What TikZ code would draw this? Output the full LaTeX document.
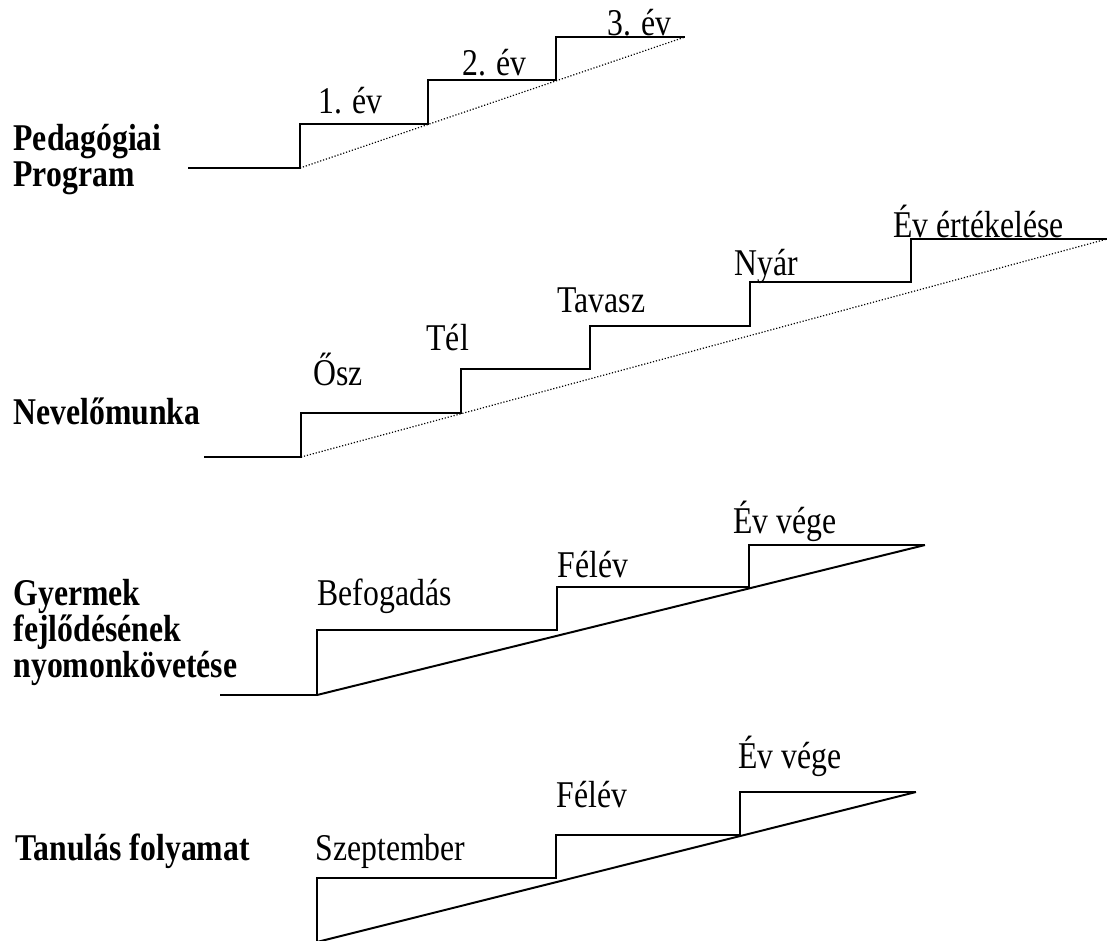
\documentclass[tikz,border=0pt]{standalone}
\usepackage{fontspec}
\setmainfont{Liberation Serif}[FakeStretch=0.84]
\usepackage{tikz}
\usetikzlibrary{positioning}
\tikzstyle{stair} = [line width=0.75pt, line join=miter]
\tikzstyle{slope} = [line width=0.45pt, dash pattern=on 0.45pt off 0.7pt]
\tikzstyle{ramp} = [line width=0.75pt]
\tikzstyle{steplabel} = [anchor=base west, inner sep=0pt, font=\fontsize{14.3}{16}\selectfont]
\tikzstyle{rowtitle} = [anchor=base west, inner sep=0pt, font=\fontsize{14.3}{16}\selectfont\bfseries]

\begin{document}
\begin{tikzpicture}[x=0.3785pt, y=-0.3785pt]
        \useasboundingbox (0,0) rectangle (1107,940);
        \clip (0,0) rectangle (1107,940);

        % Pedagogiai Program
        \node (ped1) [rowtitle] at (13,150) {Pedagógiai};
        \node (ped2) [rowtitle] at (13,186) {Program};
        \coordinate (p0) at (188,168);
        \coordinate (p1) at (300,168);
        \coordinate (p2) at (428,124);
        \coordinate (p3) at (556,80);
        \coordinate (p4) at (685,37);
        \draw [stair] (p0) -- (p1) |- (p2) |- (p3) |- (p4);
        \draw [slope] (p1) -- (p4);
        \node (ev1) [steplabel] at (318,113) {1. év};
        \node (ev2) [steplabel] at (462,75) {2. év};
        \node (ev3) [steplabel] at (607,35) {3. év};

        % Nevelomunka
        \node (nev) [rowtitle] at (13,424) {Nevelőmunka};
        \coordinate (n0) at (204,457);
        \coordinate (n1) at (301,457);
        \coordinate (n2) at (461,413);
        \coordinate (n3) at (590,369);
        \coordinate (n4) at (750,326);
        \coordinate (n5) at (911,282);
        \coordinate (n6) at (1107,239);
        \draw [stair] (n0) -- (n1) |- (n2) |- (n3) |- (n4) |- (n5) |- (n6);
        \draw [slope] (n1) -- (n6);
        \node (osz) [steplabel] at (313,385) {Ősz};
        \node (tel) [steplabel] at (426,350) {Tél};
        \node (tavasz) [steplabel] at (557,312) {Tavasz};
        \node (nyar) [steplabel] at (734,275) {Nyár};
        \node (ertek) [steplabel] at (893,237) {Év értékelése};

        % Gyermek fejlodesenek nyomonkovetese
        \node (gy1) [rowtitle] at (13,605) {Gyermek};
        \node (gy2) [rowtitle] at (13,641) {fejlődésének};
        \node (gy3) [rowtitle] at (13,677) {nyomonkövetése};
        \coordinate (g0) at (220,695);
        \coordinate (g1) at (317,695);
        \coordinate (g2) at (557,630);
        \coordinate (g3) at (749,587);
        \coordinate (g4) at (925,545);
        \draw [stair] (g0) -- (g1) |- (g2) |- (g3) |- (g4);
        \draw [ramp] (g1) -- (g4);
        \node (befog) [steplabel] at (317,605) {Befogadás};
        \node (felev1) [steplabel] at (557,577) {Félév};
        \node (vege1) [steplabel] at (733,533) {Év vége};

        % Tanulas folyamat
        \node (tan) [rowtitle] at (15,860) {Tanulás folyamat};
        \coordinate (t1) at (317,942);
        \coordinate (t2) at (556,878);
        \coordinate (t3) at (740,835);
        \coordinate (t4) at (916,792);
        \draw [stair] (t1) |- (t2) |- (t3) |- (t4);
        \draw [ramp] (t1) -- (t4);
        \node (szept) [steplabel] at (315,860) {Szeptember};
        \node (felev2) [steplabel] at (556,807) {Félév};
        \node (vege2) [steplabel] at (738,768) {Év vége};
    \end{tikzpicture}
\end{document}
